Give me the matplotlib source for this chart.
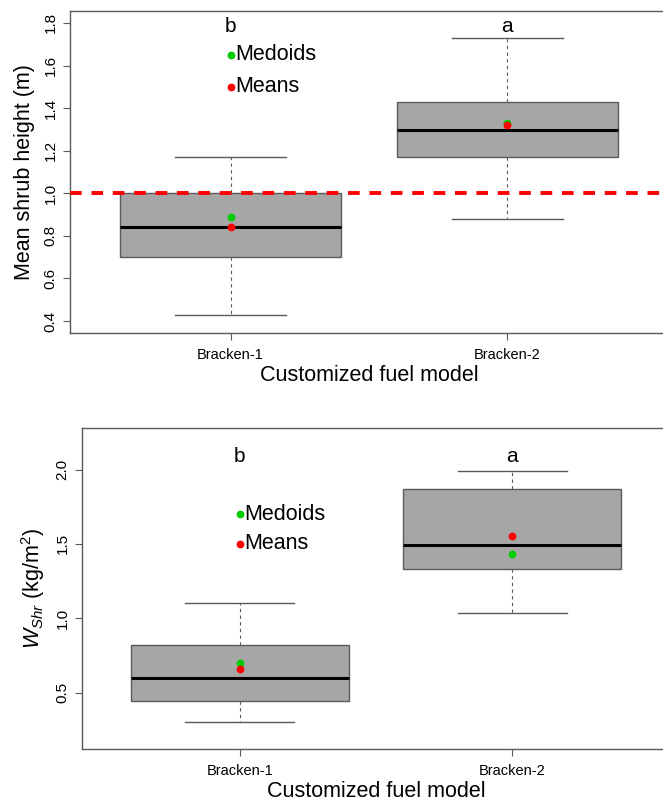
import matplotlib
matplotlib.use('Agg')
import matplotlib.pyplot as plt

# --- data ---
groups = ['Bracken-1', 'Bracken-2']
letters = ['b', 'a']

# shrub height (m)
h_lo = [0.43, 0.88]
h_q1 = [0.70, 1.17]
h_med = [0.84, 1.295]
h_q3 = [1.00, 1.43]
h_hi = [1.17, 1.73]
h_medoid = [0.89, 1.33]
h_mean = [0.84, 1.32]

# shrub load (kg/m2)
w_lo = [0.30, 1.035]
w_q1 = [0.446, 1.33]
w_med = [0.596, 1.49]
w_q3 = [0.818, 1.87]
w_hi = [1.10, 1.99]
w_medoid = [0.70, 1.435]
w_mean = [0.656, 1.552]

plt.rcParams['font.family'] = ['Liberation Sans', 'DejaVu Sans']
plt.rcParams['mathtext.fontset'] = 'custom'
plt.rcParams['mathtext.rm'] = 'Liberation Sans'
plt.rcParams['mathtext.it'] = 'Liberation Sans:italic'

FILL = '#a6a6a6'
EDGE = '#5a5a5a'
GREEN = '#00cd00'
RED = '#ff0000'

fig = plt.figure(figsize=(6.63, 8.02), dpi=100)
ax1 = fig.add_axes([70/663, 1 - 333/802, 598/663, 322/802])
ax2 = fig.add_axes([82/663, 1 - 749/802, 588/663, 321/802])


def draw_panel(ax, lo, q1, med, q3, hi, medoid, mean, ylim, yticks,
               letter_y, leg_y, ylabel):
    stats = []
    for i, g in enumerate(groups):
        stats.append(dict(label=g, whislo=lo[i], q1=q1[i], med=med[i],
                          q3=q3[i], whishi=hi[i], fliers=[]))
    ax.bxp(stats, positions=[1, 2], widths=0.8, patch_artist=True,
           showfliers=False,
           boxprops=dict(facecolor=FILL, edgecolor=EDGE, linewidth=1.0),
           medianprops=dict(color='black', linewidth=2.2),
           whiskerprops=dict(color=EDGE, linewidth=0.8, linestyle=(0, (3, 3))),
           capprops=dict(color=EDGE, linewidth=1.0),
           capwidths=0.4)

    xs = [1, 2]
    ax.plot(xs, medoid, 'o', color=GREEN, markersize=4.6, zorder=5)
    ax.plot(xs, mean, 'o', color=RED, markersize=4.6, zorder=6)

    for x, t in zip(xs, letters):
        ax.text(x, letter_y, t, ha='center', va='center', fontsize=15)

    # in-plot key
    ax.plot(1, leg_y[0], 'o', color=GREEN, markersize=4.6)
    ax.plot(1, leg_y[1], 'o', color=RED, markersize=4.6)
    ax.annotate('Medoids', (1, leg_y[0]), xytext=(3.5, 0),
                textcoords='offset points', ha='left', va='center', fontsize=15.5)
    ax.annotate('Means', (1, leg_y[1]), xytext=(3.5, 0),
                textcoords='offset points', ha='left', va='center', fontsize=15.5)

    pad = 0.04 * (ylim[1] - ylim[0])
    ax.set_ylim(ylim[0] - pad, ylim[1] + pad)
    ax.set_xlim(0.42, 2.58)
    ax.set_yticks(yticks)
    ax.set_yticklabels([f'{v:.1f}' for v in yticks], rotation=90, va='center')
    ax.set_xticks(xs)
    ax.set_xticklabels(groups)
    ax.tick_params(axis='both', labelsize=11, length=5, width=0.8,
                   color=EDGE, pad=4)
    ax.tick_params(axis='x', labelsize=10.5, pad=6)
    for s in ax.spines.values():
        s.set_color(EDGE)
        s.set_linewidth(1.0)
    ax.set_xlabel('Customized fuel model', fontsize=15.5, labelpad=2)
    ax.set_ylabel(ylabel, fontsize=15.5, labelpad=6)


draw_panel(ax1, h_lo, h_q1, h_med, h_q3, h_hi, h_medoid, h_mean,
           (0.4, 1.8), [0.4, 0.6, 0.8, 1.0, 1.2, 1.4, 1.6, 1.8],
           1.785, (1.65, 1.5), 'Mean shrub height (m)')
ax1.axhline(1.0, color=RED, linewidth=2.8, dashes=(3, 2.5), zorder=4)

draw_panel(ax2, w_lo, w_q1, w_med, w_q3, w_hi, w_medoid, w_mean,
           (0.2, 2.2), [0.5, 1.0, 1.5, 2.0],
           2.09, (1.7, 1.5), r'$W_{Shr}$ (kg/m$^2$)')

fig.savefig('out.png', dpi=100)
